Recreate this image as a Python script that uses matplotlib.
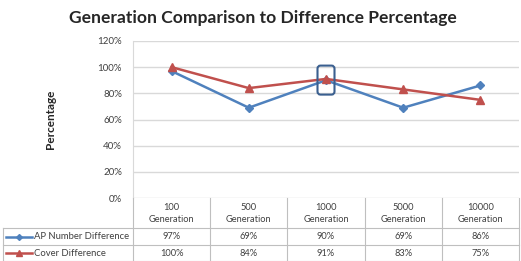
import numpy as np
import matplotlib.pyplot as plt
from matplotlib.patches import FancyBboxPatch

categories = ["100\nGeneration", "500\nGeneration", "1000\nGeneration",
              "5000\nGeneration", "10000\nGeneration"]
ap_number = [97, 69, 90, 69, 86]
cover = [100, 84, 91, 83, 75]
series_names = ["AP Number Difference", "Cover Difference"]
highlight_idx = 2

blue = "#4F81BD"
red = "#C0504D"
grid_c = "#D9D9D9"
text_c = "#404040"

plt.rcParams['font.family'] = ['Lato', 'DejaVu Sans']

W, H = 521, 261
fig = plt.figure(figsize=(W / 100, H / 100), dpi=100)

# plot area in pixels
left, right, top, bottom = 133, 519, 41, 198
ax = fig.add_axes([left / W, 1 - bottom / H, (right - left) / W, (bottom - top) / H])

x = np.arange(len(categories))
ax.plot(x, ap_number, color=blue, lw=1.8, marker="D", ms=4.5, zorder=3)
ax.plot(x, cover, color=red, lw=1.8, marker="^", ms=6, zorder=3)

ax.set_xlim(-0.5, len(categories) - 0.5)
ax.set_ylim(0, 120)
ax.set_yticks(range(0, 121, 20))
ax.set_yticklabels([f"{v}%" for v in range(0, 121, 20)], fontsize=7, color=text_c)
ax.set_xticks([])
ax.tick_params(axis="y", length=0, pad=8)
ax.yaxis.grid(True, color=grid_c, lw=1)
ax.set_axisbelow(True)
for s in ["top", "right", "bottom"]:
    ax.spines[s].set_visible(False)
ax.spines["left"].set_color(grid_c)

ax.set_ylabel("Percentage", fontsize=8.5, fontweight="bold", labelpad=30, color="#262626")

fig.text(263 / W, 1 - 18 / H, "Generation Comparison to Difference Percentage",
         ha="center", va="center", fontsize=12.6, fontweight="bold", color="#262626")

# overlay axes in pixel coordinates (y down) for the table and highlight box
tax = fig.add_axes([0, 0, 1, 1])
tax.set_xlim(0, W)
tax.set_ylim(H, 0)
tax.axis("off")

# highlight box around the 1000 generation point
px, py = ax.transData.transform((highlight_idx, (ap_number[highlight_idx] + cover[highlight_idx]) / 2))
py = H - py
box = FancyBboxPatch((px - 8.5, py - 14), 17, 29, boxstyle="round,pad=0,rounding_size=3",
                     fill=False, ec="#3A5F8F", lw=1.5, zorder=4)
tax.add_patch(box)

col_w = (right - left) / len(categories)
row_tops = [198, 228, 245, 261]
tab_c = "#BFBFBF"
# header cells
for i, cat in enumerate(categories):
    cx = left + col_w * (i + 0.5)
    tax.text(cx, (row_tops[0] + row_tops[1]) / 2 + 0.5, cat, ha="center", va="center",
             fontsize=6.7, color=text_c, linespacing=1.3)
# vertical lines
for i in range(len(categories) + 1):
    xv = left + col_w * i
    tax.plot([xv, xv], [row_tops[0], row_tops[3]], color=tab_c, lw=0.8)
tax.plot([3, 3], [row_tops[1], row_tops[3]], color=tab_c, lw=0.8)
# horizontal lines
tax.plot([3, right], [row_tops[1], row_tops[1]], color=tab_c, lw=0.8)
tax.plot([3, right], [row_tops[2], row_tops[2]], color=tab_c, lw=0.8)
tax.plot([3, right], [row_tops[3] - 0.5, row_tops[3] - 0.5], color=tab_c, lw=0.8)

rows = [ap_number, cover]
styles = [(blue, "D", 3), (red, "^", 4.5)]
for r, (vals, name, (c, m, ms)) in enumerate(zip(rows, series_names, styles)):
    cy = (row_tops[r + 1] + row_tops[r + 2]) / 2
    tax.plot([6, 32], [cy, cy], color=c, lw=1.8)
    tax.plot([19], [cy], color=c, marker=m, ms=ms)
    tax.text(34, cy, name, ha="left", va="center", fontsize=6.8, color=text_c)
    for i, v in enumerate(vals):
        cx = left + col_w * (i + 0.5)
        tax.text(cx, cy, f"{v}%", ha="center", va="center", fontsize=6.7, color=text_c)

fig.savefig("out.png", dpi=100, facecolor="white")
